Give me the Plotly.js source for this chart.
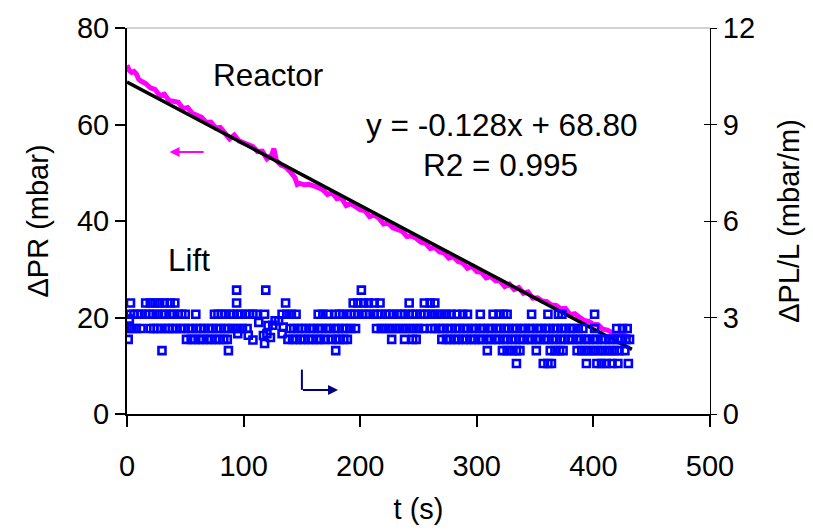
<!DOCTYPE html>
<html>
<head>
<meta charset="utf-8">
<script src="https://cdn.plot.ly/plotly-3.0.1.min.js"></script>
<style>html,body{margin:0;padding:0;background:#fff;}#chart{width:813px;height:530px;}</style>
</head>
<body>
<div id="chart"></div>
<script>
// ---- Reactor pressure drop ΔPR (mbar), left axis ----
const reactorT = [0,2,4,6,8,10,12,16,20,24,28,32,36,40,44,48,52,56,60,64,68,72,76,80,84,88,92,96,100,104,108,112,116,120,124,126,128,132,136,140,144,146,148,152,156,160,164,168,172,176,180,184,188,192,196,200,204,208,212,216,220,224,228,232,236,240,244,248,252,256,260,264,268,272,276,280,284,288,292,296,300,304,308,312,316,320,324,328,332,336,340,344,348,352,356,360,364,368,372,376,380,384,388,392,396,400,404,408,412,416,420,424,428,432];
const reactorP = [72.3,71.2,70.8,71.0,70.5,69.4,69.0,68.5,67.6,67.3,66.0,66.3,65.0,64.8,64.6,63.3,63.5,62.3,61.9,61.5,60.4,60.5,59.3,59.4,58.2,57.0,57.8,56.6,56.2,55.9,55.4,54.4,54.5,52.9,53.6,55.0,52.6,51.6,51.2,50.2,49.0,47.6,47.8,47.5,47.6,47.3,46.8,46.5,45.5,45.9,44.6,44.8,43.2,43.6,43.0,42.3,42.2,40.9,41.2,40.6,39.4,39.6,38.6,38.3,37.9,36.8,36.9,36.4,35.6,35.4,34.3,34.5,33.6,33.4,32.3,32.6,31.6,31.3,30.2,30.6,29.5,29.4,28.2,28.5,27.6,27.6,26.4,26.9,25.8,26.2,25.0,25.3,24.0,24.1,23.4,23.3,22.6,22.5,21.8,21.9,20.6,20.8,20.0,19.4,19.2,18.6,18.5,17.6,17.4,17.0,16.4,16.5,16.1,15.8];

// ---- Linear fit y = -0.128x + 68.80 (end points) ----
const fitT = [0, 433];
const fitP = [68.8, 13.4];

// ---- Lift ΔPL/L (mbar/m), right axis: times at each reading level ----
const liftLevels = [3.85, 3.45, 3.10, 2.66, 2.32, 1.97, 1.57];
const liftTA = [94,119,201];
const liftTB = [3,16,20,24,28,32,37,41,94,136,194,198,203,207,212,217,242,255,260,264];
const liftTC = [3,6,9,12,16,19,22,26,30,33,37,40,44,47,50,59,75,78,81,84,88,91,95,98,102,105,108,111,118,133,137,141,145,164,168,172,179,182,185,189,192,195,198,202,205,208,212,215,218,222,225,228,232,235,238,242,245,248,252,255,258,262,266,270,274,278,283,288,292,303,314,319,323,326,347,361,370,373,401];
const liftTD = [0,4,8,12,20,23,26,29,33,36,39,42,46,49,53,56,60,63,66,70,73,77,80,84,87,91,95,99,103,140,143,147,150,153,157,160,164,167,171,174,178,181,185,188,192,196,214,218,222,226,230,234,238,242,246,250,254,261,264,268,271,275,278,282,285,289,292,296,299,303,306,310,313,317,320,324,327,331,334,338,341,345,348,352,355,359,362,366,369,373,376,380,383,387,391,401,420,425,429];
const liftTE = [1,51,55,58,62,65,69,72,76,79,83,86,138,142,145,149,152,156,159,163,166,170,175,179,182,186,189,227,238,245,248,270,274,277,281,284,288,291,295,298,302,305,309,312,316,319,323,326,330,333,337,340,344,347,351,354,358,361,365,368,372,375,379,382,386,389,393,396,400,403,407,410,414,417,421,424,428,431];
const liftTF = [30,87,179,309,322,326,330,334,337,351,363,367,371,374,386,390,394,398,402,406,410,414,418,422,427];
const liftTG = [334,357,361,364,394,403,407,411,416,421,430];
// scattered readings between levels
const liftMidT = [2,95,104,108,113,117,118,120,121,123,125,127,130,133,134];
const liftMidV = [2.95,2.5,2.45,2.3,2.85,2.44,2.19,2.5,2.75,2.38,2.76,2.9,2.9,2.5,2.7];

// tick labels
const xTicks = [0,100,200,300,400,500];
const yTicks = [0,20,40,60,80];
const y2Ticks = [0,3,6,9,12];

const liftGroups = [liftTA, liftTB, liftTC, liftTD, liftTE, liftTF, liftTG];
let liftT = [], liftV = [];
liftGroups.forEach((g, i) => { g.forEach(t => { liftT.push(t); liftV.push(liftLevels[i]); }); });
liftT = liftT.concat(liftMidT); liftV = liftV.concat(liftMidV);

const FONT = 'Liberation Sans, Arial, sans-serif';
const FS = 29;
const FA = 31.5;

const traces = [
  {x: liftT, y: liftV, yaxis: 'y2', type: 'scatter', mode: 'markers',
   marker: {symbol: 'square-open', size: 7, color: '#0000FF', line: {width: 2.6, color: '#0000FF'}},
   hoverinfo: 'skip'},
  {x: reactorT, y: reactorP, type: 'scatter', mode: 'lines',
   line: {color: '#FF00FF', width: 5}, hoverinfo: 'skip'},
  {x: fitT, y: fitP, type: 'scatter', mode: 'lines',
   line: {color: '#000000', width: 3.5}, hoverinfo: 'skip'},
  // invisible carrier for inside tick marks on the right axis
  {x: [0], y: [0], yaxis: 'y3', type: 'scatter', mode: 'markers', marker: {opacity: 0}, hoverinfo: 'skip'}
];

const layout = {
  width: 813, height: 530,
  margin: {l: 127, r: 103, t: 28, b: 116},
  paper_bgcolor: '#ffffff', plot_bgcolor: '#ffffff',
  showlegend: false,
  font: {family: FONT, size: FS, color: '#000'},
  xaxis: {
    range: [0, 500], tickvals: xTicks, ticktext: xTicks.map(String),
    showgrid: false, zeroline: false, showline: true, linecolor: '#000', linewidth: 2,
    ticks: 'outside', ticklen: 11, tickwidth: 2, tickcolor: '#000',
    ticklabelstandoff: 14,
    tickfont: {family: FONT, size: FS},
    title: {text: 't (s)', font: {family: FONT, size: FS}, standoff: 18}
  },
  yaxis: {
    range: [0, 80], tickvals: yTicks, ticktext: yTicks.map(String),
    showgrid: false, zeroline: false, showline: true, linecolor: '#000', linewidth: 2,
    ticks: 'outside', ticklen: 10, tickwidth: 2, tickcolor: '#000',
    tickfont: {family: FONT, size: FS},
    title: {text: 'ΔPR (mbar)', font: {family: FONT, size: FS}, standoff: 20}
  },
  yaxis2: {
    range: [0, 12], tickvals: y2Ticks, ticktext: y2Ticks.map(String),
    overlaying: 'y', side: 'right', anchor: 'x',
    showgrid: false, zeroline: false, showline: true, linecolor: '#000', linewidth: 1,
    ticks: 'outside', ticklen: 6, tickwidth: 1, tickcolor: '#000',
    tickfont: {family: FONT, size: FS},
    title: {text: 'ΔPL/L (mbar/m)', font: {family: FONT, size: FS}, standoff: 24}
  },
  yaxis3: {
    range: [0, 12], tickvals: y2Ticks, overlaying: 'y', side: 'right', anchor: 'x',
    showgrid: false, zeroline: false, showline: false, showticklabels: false,
    ticks: 'inside', ticklen: 6, tickwidth: 1, tickcolor: '#000'
  },
  shapes: [
    {type: 'line', xref: 'paper', yref: 'paper', x0: 0, x1: 1, y0: 1, y1: 1,
     line: {color: '#a6a6a6', width: 1}},
    {type: 'line', xref: 'x', yref: 'y', x0: 150, x1: 150, y0: 9.2, y1: 5.0,
     line: {color: '#000080', width: 2}}
  ],
  annotations: [
    {x: 121, y: 70.2, xref: 'x', yref: 'y', text: 'Reactor', showarrow: false,
     font: {family: FONT, size: FA}},
    {x: 321, y: 60, xref: 'x', yref: 'y', text: 'y = -0.128x + 68.80', showarrow: false,
     font: {family: FONT, size: FA}},
    {x: 320, y: 51.6, xref: 'x', yref: 'y', text: 'R2 = 0.995', showarrow: false,
     font: {family: FONT, size: FA}},
    {x: 53, y: 32, xref: 'x', yref: 'y', text: 'Lift', showarrow: false,
     font: {family: FONT, size: FA}},
    {x: 36.5, y: 54.3, xref: 'x', yref: 'y', ax: 67, ay: 54.3, axref: 'x', ayref: 'y',
     text: '', showarrow: true, arrowhead: 2, arrowsize: 1, arrowwidth: 2, arrowcolor: '#FF00FF'},
    {x: 181, y: 5.0, xref: 'x', yref: 'y', ax: 149.6, ay: 5.0, axref: 'x', ayref: 'y',
     text: '', showarrow: true, arrowhead: 2, arrowsize: 1, arrowwidth: 2, arrowcolor: '#000080'}
  ]
};

Plotly.newPlot('chart', traces, layout, {staticPlot: true, displayModeBar: false});
</script>
</body>
</html>
